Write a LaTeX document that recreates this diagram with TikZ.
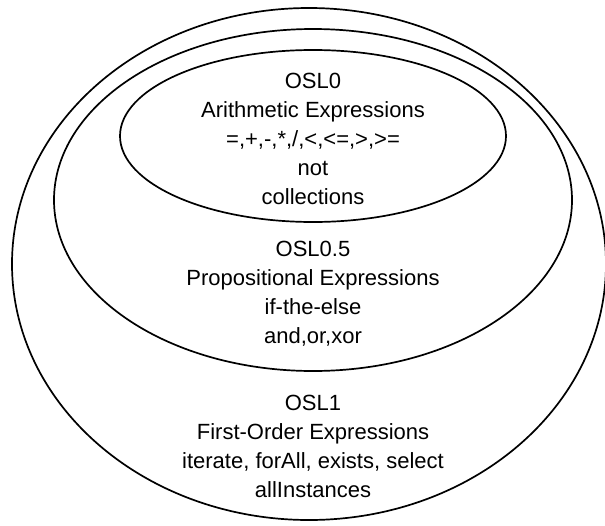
\documentclass[tikz,border=0pt]{standalone}
\usepackage{fontspec}
\setmainfont{Liberation Sans}
\begin{document}
\begin{tikzpicture}[x=1pt,y=-1pt,
  level/.style={draw=black, line width=1.7pt},
  label/.style={align=center, inner sep=0pt,
    font=\fontsize{22}{29}\selectfont}]
  \useasboundingbox (0,0) rectangle (605,525);
  % nested language levels
  \draw[level] (309,264) ellipse [x radius=297, y radius=256];
  \draw[level] (313,200) ellipse [x radius=259, y radius=171];
  \draw[level] (313,136) ellipse [x radius=193, y radius=86];
  % level descriptions
  \node[label] (osl0) at (313,139) {OSL0\\Arithmetic Expressions\\=,+,-,*,/,<,<=,>,>=\\not\\collections};
  \node[label] (osl05) at (313,294) {OSL0.5\\Propositional Expressions\\if-the-else\\and,or,xor};
  \node[label] (osl1) at (313,446) {OSL1\\First-Order Expressions\\iterate, forAll, exists, select\\allInstances};
\end{tikzpicture}
\end{document}
